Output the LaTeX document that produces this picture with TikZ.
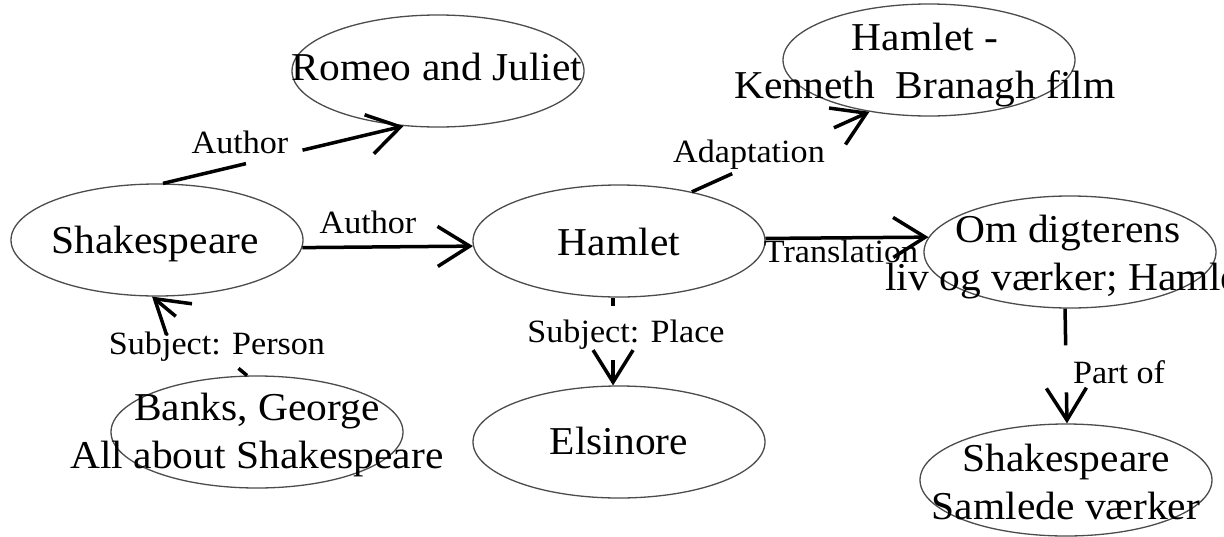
\documentclass[tikz,border=0pt]{standalone}
\usepackage{fontspec}
\setmainfont[FakeStretch=1.05]{Liberation Serif}
\usetikzlibrary{shapes.geometric,arrows.meta}

\tikzset{
  ell/.style={draw=black!70, line width=1.3pt, ellipse,
    minimum width=292pt, minimum height=112pt, inner sep=0pt},
  ntext/.style={font=\fontsize{39.5}{47.5}\selectfont, align=center,
    inner sep=0pt, anchor=base},
  elabel/.style={font=\fontsize{32.5}{38}\selectfont, inner sep=0pt, anchor=base},
  edge/.style={line width=3.5pt},
  arrowedge/.style={edge, -{Straight Barb[length=32pt,width=40pt]}},
}

\begin{document}
\begin{tikzpicture}[x=1pt,y=-1pt]
\useasboundingbox (0,0) rectangle (1224,536);
\fill[white] (0,0) rectangle (1224,536);
\clip (0,0) rectangle (1224,536);

% entities
\node[ell] (rj) at (438,71)  {};
\node[ell] (sh) at (157,240) {};
\node[ell] (ha) at (619,241) {};
\node[ell] (fi) at (929,60)  {};
\node[ell] (om) at (1070,252) {};
\node[ell] (el) at (619,442) {};
\node[ell] (ba) at (257,432) {};
\node[ell] (sa) at (1066,480) {};

% entity texts (multi-line nodes sit on the baseline of their last line)
\node[ntext] (rjt) at (437,80)  {Romeo and Juliet};
\node[ntext] (sht) at (155,253) {Shakespeare};
\node[ntext] (hat) at (619,255) {Hamlet};
\node[ntext] (elt) at (619,454) {Elsinore};
\node[ntext] (fit) at (925,98)  {Hamlet -\\Kenneth\ \ Branagh film};
\node[ntext] (bat) at (257,468) {Banks, George\\All about Shakespeare};
\node[ntext] (omt) at (1068,290) {Om digterens\\liv og værker; Hamlet};
\node[ntext] (sat) at (1066,519) {Shakespeare\\Samlede værker};

% Shakespeare -> Romeo and Juliet
\path (sh.84) -- (rj.238) coordinate[pos=0.345] (g1a) coordinate[pos=0.58] (g1b);
\draw[edge] (sh.84) -- (g1a);
\draw[arrowedge] (g1b) -- (rj.238);
\node[elabel] (l1) at (240,153) {Author};

% Shakespeare -> Hamlet
\draw[arrowedge] (sh.-3) -- (ha.182);
\node[elabel] (l2) at (368,233) {Author};

% Hamlet -> film
\path (ha.34) -- (fi.221.6) coordinate[pos=0.227] (g3a) coordinate[pos=0.8] (g3b);
\draw[edge] (ha.34) -- (g3a);
\draw[arrowedge] (g3b) -- (fi.221.6);
\node[elabel] (l3) at (749,162) {Adaptation};

% Hamlet -> translation
\draw[arrowedge] (ha.1.6) -- (om.174);
\node[elabel] (l4) at (841,262) {Translation};

% Hamlet -> Elsinore
\path (ha.264) -- (el.96) coordinate[pos=0.09] (g5a) coordinate[pos=0.71] (g5b);
\draw[edge] (ha.264) -- (g5a);
\draw[arrowedge] (g5b) -- (el.96);
\node[elabel] (l5) at (626,342) {Subject: Place};

% Banks -> Shakespeare
\path (ba.100) -- (sh.265) coordinate[pos=0.09] (g6a) coordinate[pos=0.75] (g6b);
\draw[edge] (ba.100) -- (g6a);
\draw[arrowedge] (g6b) -- (sh.265);
\node[elabel] (l6) at (217,354) {Subject: Person};

% translation -> collected works
\path (om.265) -- (sa.89) coordinate[pos=0.32] (g7a) coordinate[pos=0.73] (g7b);
\draw[edge] (om.265) -- (g7a);
\draw[arrowedge] (g7b) -- (sa.89);
\node[elabel] (l7) at (1119,383) {Part of};
\end{tikzpicture}
\end{document}
